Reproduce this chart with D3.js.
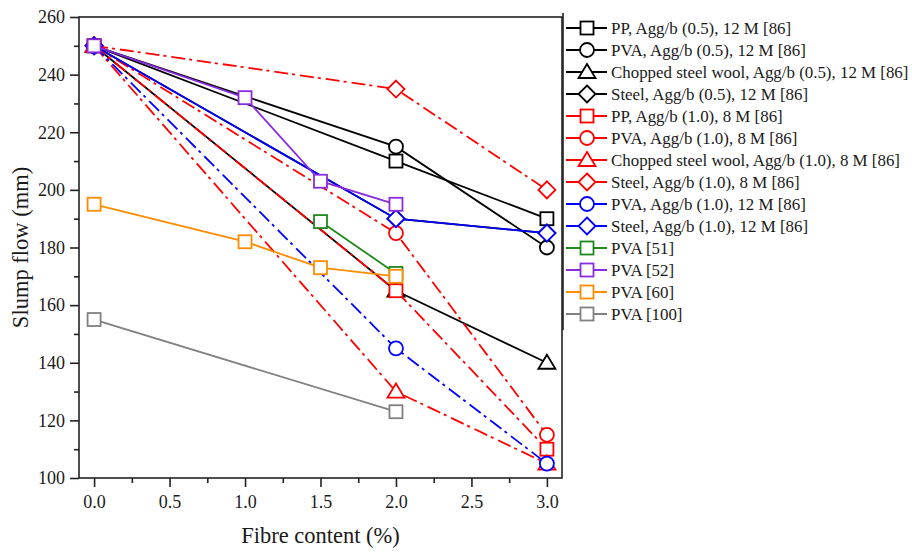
<!DOCTYPE html>
<html>
<head>
<meta charset="utf-8">
<script src="https://cdn.jsdelivr.net/npm/d3@7"></script>
<style>
  body { margin: 0; background: #fff; }
  text { font-family: "Liberation Serif", "Times New Roman", serif; fill: #1a1a1a; }
</style>
</head>
<body>
<div id="chart"></div>
<script>

// data
const seriesNames = [
    "PP, Agg/b (0.5), 12 M [86]",
    "PVA, Agg/b (0.5), 12 M [86]",
    "Chopped steel wool, Agg/b (0.5), 12 M [86]",
    "Steel, Agg/b (0.5), 12 M [86]",
    "PP, Agg/b (1.0), 8 M [86]",
    "PVA, Agg/b (1.0), 8 M [86]",
    "Chopped steel wool, Agg/b (1.0), 8 M [86]",
    "Steel, Agg/b (1.0), 8 M [86]",
    "PVA, Agg/b (1.0), 12 M [86]",
    "Steel, Agg/b (1.0), 12 M [86]",
    "PVA [51]",
    "PVA [52]",
    "PVA [60]",
    "PVA [100]"
]

const fibreX = [
    [0, 2, 3],
    [0, 2, 3],
    [0, 2, 3],
    [0, 2, 3],
    [0, 2, 3],
    [0, 2, 3],
    [0, 2, 3],
    [0, 2, 3],
    [0, 2, 3],
    [0, 2, 3],
    [1.5, 2],
    [0, 1, 1.5, 2],
    [0, 1, 1.5, 2],
    [0, 2]
]

const slumpY = [
    [250, 210, 190],
    [250, 215, 180],
    [250, 165, 140],
    [250, 190, 185],
    [250, 165, 110],
    [250, 185, 115],
    [250, 130, 105],
    [250, 235, 200],
    [250, 145, 105],
    [250, 190, 185],
    [189, 171],
    [250, 232, 203, 195],
    [195, 182, 173, 170],
    [155, 123]
]

const colors = ["#000000", "#000000", "#000000", "#000000",
    "#ff0000", "#ff0000", "#ff0000", "#ff0000",
    "#0000ff", "#0000ff", "#1e8a1e", "#8a2be2", "#ff8c00", "#808080"]

const symbols = ["square", "circle", "triangle", "diamond",
    "square", "circle", "triangle", "diamond",
    "circle", "diamond", "square", "square", "square", "square"]

const dashed = [false, false, false, false, true, true, true, true, true, false,
    false, false, false, false]

const xTicks = [0, 0.5, 1.0, 1.5, 2.0, 2.5, 3.0]
const yTicks = [100, 120, 140, 160, 180, 200, 220, 240, 260]


let margin = {left: 79, top: 17, right: 350, bottom: 74}
let W = 912, H = 552

let svg = d3.select("#chart").append("svg")
    .attr("width", W)
    .attr("height", H)

let x = d3.scaleLinear().domain([-0.1, 3.1]).range([margin.left, W - margin.right])
let y = d3.scaleLinear().domain([100, 260]).range([H - margin.bottom, margin.top])

// frame (top & right have no ticks)
svg.append("rect")
    .attr("x", x.range()[0])
    .attr("y", y.range()[1])
    .attr("width", x.range()[1] - x.range()[0])
    .attr("height", y.range()[0] - y.range()[1])
    .attr("fill", "none")
    .attr("stroke", "#222")
    .attr("stroke-width", 1.6)

// minor ticks
let minorX = d3.range(0, 3.01, 0.25).filter(d => xTicks.indexOf(d) < 0)
let minorY = d3.range(110, 260, 20)

svg.append("g")
    .attr("transform", `translate(0, ${y.range()[0]})`)
    .call(d3.axisBottom(x).tickValues(minorX).tickSize(5).tickFormat(""))
    .call(g => g.select(".domain").remove())
    .selectAll("line").attr("stroke", "#222").attr("stroke-width", 1.6)

svg.append("g")
    .attr("transform", `translate(${x.range()[0]}, 0)`)
    .call(d3.axisLeft(y).tickValues(minorY).tickSize(5).tickFormat(""))
    .call(g => g.select(".domain").remove())
    .selectAll("line").attr("stroke", "#222").attr("stroke-width", 1.6)

// major axes
let xAxis = svg.append("g")
    .attr("transform", `translate(0, ${y.range()[0]})`)
    .call(d3.axisBottom(x).tickValues(xTicks).tickSize(9).tickPadding(8).tickFormat(d3.format(".1f")))
xAxis.select(".domain").remove()
xAxis.selectAll("line").attr("stroke", "#222").attr("stroke-width", 1.6)
xAxis.selectAll("text").style("font-size", "18px").attr("font-family", null)

let yAxis = svg.append("g")
    .attr("transform", `translate(${x.range()[0]}, 0)`)
    .call(d3.axisLeft(y).tickValues(yTicks).tickSize(9).tickPadding(5))
yAxis.select(".domain").remove()
yAxis.selectAll("line").attr("stroke", "#222").attr("stroke-width", 1.6)
yAxis.selectAll("text").style("font-size", "18px").attr("font-family", null)

// axis titles
svg.append("text")
    .attr("x", (x.range()[0] + x.range()[1]) / 2)
    .attr("y", 543)
    .attr("text-anchor", "middle")
    .style("font-size", "22.5px")
    .text("Fibre content (%)")

svg.append("text")
    .attr("transform", `translate(28, ${(y.range()[0] + y.range()[1]) / 2}) rotate(-90)`)
    .attr("text-anchor", "middle")
    .style("font-size", "22.5px")
    .text("Slump flow (mm)")

// marker shapes
function drawMarker(g, type, cx, cy, color) {
    let m
    if (type === "square") {
        m = g.append("rect").attr("x", cx - 6.5).attr("y", cy - 6.5).attr("width", 13).attr("height", 13)
    } else if (type === "circle") {
        m = g.append("circle").attr("cx", cx).attr("cy", cy).attr("r", 7)
    } else if (type === "triangle") {
        m = g.append("path").attr("d", `M${cx},${cy - 8}L${cx + 8.5},${cy + 6}L${cx - 8.5},${cy + 6}Z`)
    } else {
        m = g.append("path").attr("d", `M${cx},${cy - 8.5}L${cx + 8.5},${cy}L${cx},${cy + 8.5}L${cx - 8.5},${cy}Z`)
    }
    m.attr("fill", "#fff").attr("stroke", color).attr("stroke-width", 1.8)
}

let line = d3.line().x(d => x(d[0])).y(d => y(d[1]))

let plot = svg.append("g")

seriesNames.forEach((name, i) => {
    let pts = fibreX[i].map((v, j) => [v, slumpY[i][j]])
    let g = plot.append("g")
    g.append("path")
        .datum(pts)
        .attr("d", line)
        .attr("fill", "none")
        .attr("stroke", colors[i])
        .attr("stroke-width", 1.8)
        .attr("stroke-dasharray", dashed[i] ? "14,4,3,5" : null)
    pts.forEach(p => drawMarker(g, symbols[i], x(p[0]), y(p[1]), colors[i]))
})

// legend
let legend = svg.append("g")
legend.append("line")
    .attr("x1", 563).attr("x2", 563)
    .attr("y1", 13).attr("y2", 330)
    .attr("stroke", "#222").attr("stroke-width", 1.6)

seriesNames.forEach((name, i) => {
    let ly = 28 + i * 22
    legend.append("line")
        .attr("x1", 566).attr("x2", 607)
        .attr("y1", ly).attr("y2", ly)
        .attr("stroke", colors[i]).attr("stroke-width", 1.8)
    drawMarker(legend, symbols[i], 587, ly, colors[i])
    legend.append("text")
        .attr("x", 611)
        .attr("y", ly)
        .attr("dy", "0.35em")
        .style("font-size", "16.9px")
        .text(name)
})

</script>
</body>
</html>
